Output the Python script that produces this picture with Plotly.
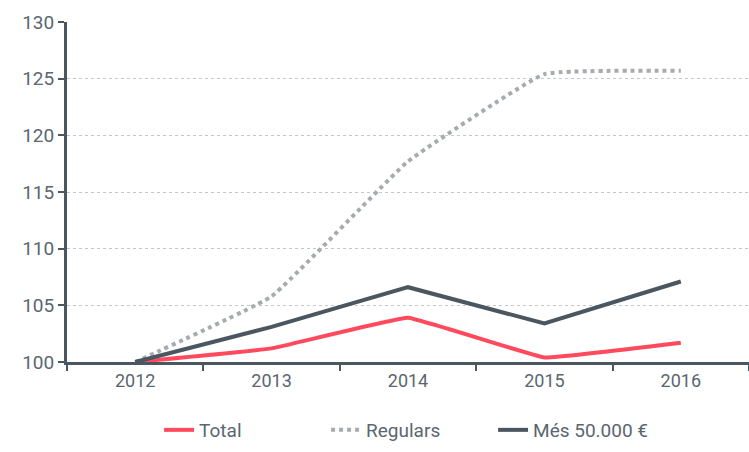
import plotly.graph_objects as go

years = ["2012", "2013", "2014", "2015", "2016"]
total = [100, 101.2, 103.9, 100.4, 101.7]
regulars = [100, 105.8, 117.7, 125.4, 125.7]
mes50000 = [100, 103.1, 106.6, 103.4, 107.1]

FONT = "Roboto, sans-serif"
AX = "#4a5660"

fig = go.Figure()
fig.add_trace(go.Scatter(x=years, y=total, name="Total", mode="lines",
                         line=dict(color="#ff4a5e", width=4, shape="spline", smoothing=0.2)))
fig.add_trace(go.Scatter(x=years, y=regulars, name="Regulars", mode="lines",
                         line=dict(color="#a7abaf", width=4, dash="dot", shape="spline", smoothing=0.3)))
fig.add_trace(go.Scatter(x=years, y=mes50000, name="Més 50.000 €", mode="lines",
                         line=dict(color=AX, width=4)))

fig.update_layout(
    width=749, height=452,
    margin=dict(l=67, r=0, t=22, b=90),
    plot_bgcolor="white", paper_bgcolor="white",
    font=dict(family=FONT, size=18, color="#5a6670"),
    showlegend=True,
    legend=dict(orientation="h", x=0.135, xanchor="left", y=-0.2, yanchor="middle",
                font=dict(size=19, color="#5a6670"), tracegroupgap=0,
                entrywidth=122, entrywidthmode="pixels"),
    xaxis=dict(showline=True, linecolor=AX, linewidth=3, ticks="outside", tickson="boundaries",
               ticklen=6, tickwidth=2, tickcolor=AX, showgrid=False, range=[-0.5, 4.5],
               tickfont=dict(size=18), automargin=False),
    yaxis=dict(range=[100, 130], dtick=5, showline=True, linecolor=AX, linewidth=3,
               ticks="outside", ticklen=6, tickwidth=2, tickcolor=AX,
               showgrid=True, gridcolor="#c4c8cc", griddash="dot", gridwidth=1,
               zeroline=False, tickfont=dict(size=19), automargin=False),
)
fig.write_html("out.html", config={"displayModeBar": False},
               post_script="document.body.style.margin='0';document.body.style.overflow='hidden';")
